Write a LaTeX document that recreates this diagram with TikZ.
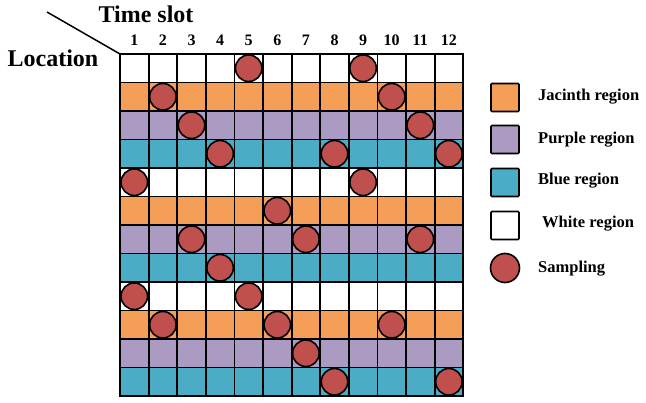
\documentclass[tikz,border=0pt]{standalone}
\usepackage{fontspec}
\setmainfont{Liberation Serif}
\definecolor{jac}{HTML}{F59E58}
\definecolor{pur}{HTML}{AB9AC2}
\definecolor{blu}{HTML}{4BACC6}
\definecolor{sampred}{HTML}{C0504D}
\begin{document}
\begin{tikzpicture}[x=1pt,y=-1pt,
  cell/.style={draw=black,line width=1.8pt,minimum width=28.6pt,minimum height=28.5pt,inner sep=0pt,outer sep=0pt},
  samp/.style={circle,draw=black,line width=1.6pt,fill=sampred,minimum size=26.5pt,inner sep=0pt},
  legsq/.style={draw=black,line width=1.6pt,rounded corners=1pt,minimum size=28pt,inner sep=0pt},
  legtxt/.style={anchor=base west,font=\bfseries\fontsize{16.5}{18}\selectfont,inner sep=0pt},
  numtxt/.style={font=\bfseries\fontsize{16}{18}\selectfont,inner sep=0pt},
  bigtxt/.style={font=\bfseries\fontsize{24}{26}\selectfont,inner sep=0pt}]
\useasboundingbox (0,0) rectangle (646,403);
\foreach \r/\col in {1/white,2/jac,3/pur,4/blu,5/white,6/jac,7/pur,8/blu,9/white,10/jac,11/pur,12/blu}{
  \foreach \c in {1,...,12}{
    \node[cell,fill=\col] (c\r-\c) at ({120+28.6*(\c-0.5)},{54+28.5*(\r-0.5)}) {};
  }
}
\foreach \r/\c in {1/5,1/9,2/2,2/10,3/3,3/11,4/4,4/8,4/12,5/1,5/9,6/6,7/3,7/7,7/11,8/4,9/1,9/5,10/2,10/6,10/10,11/7,12/8,12/12}{
  \node[samp] (s\r-\c) at (c\r-\c) {};
}
\foreach \c in {1,...,12}{
  \node[numtxt] (n\c) at ({120+28.6*(\c-0.5)},40) {\c};
}
\node[bigtxt] (ts) at (146,14) {Time slot};
\node[bigtxt] (loc) at (53,58) {Location};
\coordinate (ls) at (47,12);
\draw[line width=1.5pt] (ls) -- (c1-1.north west);
% legend
\node[legsq,fill=jac] (l1) at (505,97.5) {};
\node[legsq,fill=pur] (l2) at (505,139.5) {};
\node[legsq,fill=blu] (l3) at (505,182.5) {};
\node[legsq,fill=white] (l4) at (505,225.5) {};
\node[circle,draw=black,line width=1.6pt,fill=sampred,minimum size=29pt,inner sep=0pt] (l5) at (505,268) {};
\node[legtxt] (t1) at (538,101) {Jacinth region};
\node[legtxt] (t2) at (538,144) {Purple region};
\node[legtxt] (t3) at (538,185) {Blue region};
\node[legtxt] (t4) at (542,228) {White region};
\node[legtxt] (t5) at (538,273) {Sampling};
\end{tikzpicture}
\end{document}
